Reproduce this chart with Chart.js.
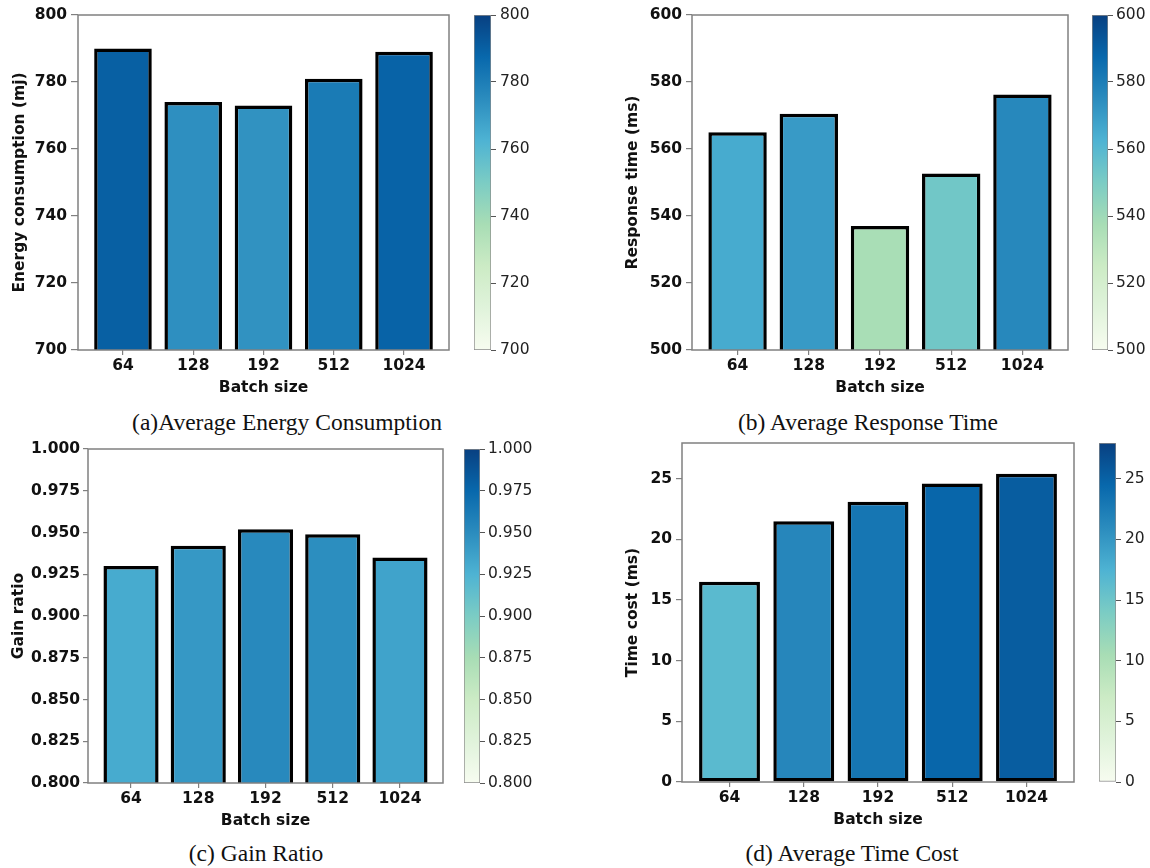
<!DOCTYPE html>
<html>
<head>
<meta charset="utf-8">
<script src="https://cdn.jsdelivr.net/npm/chart.js@4.4.1/dist/chart.umd.min.js"></script>
<style>
  html, body { margin: 0; padding: 0; background: #fff; }
  #fig { position: relative; width: 1150px; height: 868px; overflow: hidden; background: #fff; }
  #fig canvas { position: absolute; }
  .cap {
    position: absolute; width: 440px; text-align: center; white-space: nowrap;
    font-family: 'Liberation Serif', 'Times New Roman', serif;
    font-size: 23.5px; line-height: 28px; color: #111;
  }
</style>
</head>
<body>
<div id="fig"></div>
<script>
// ---- data ----
const batchSizes = ['64', '128', '192', '512', '1024'];

const energyMj    = [790, 774, 773, 781, 789];
const responseMs  = [565, 570.5, 537, 552.7, 576.3];
const gainRatio   = [0.930, 0.942, 0.952, 0.949, 0.935];
const timeCostMs  = [16.5, 21.5, 23.1, 24.6, 25.4];

const energyTicks   = [700, 720, 740, 760, 780, 800];
const responseTicks = [500, 520, 540, 560, 580, 600];
const gainTicks     = [0.800, 0.825, 0.850, 0.875, 0.900, 0.925, 0.950, 0.975, 1.000];
const timeTicks     = [0, 5, 10, 15, 20, 25];

const energyRange   = [700, 800];
const responseRange = [500, 600];
const gainRange     = [0.8, 1.0];
const timeRange     = [0, 27.94];

// GnBu colour map (ColorBrewer, 9 classes)
const GNBU = ['#f7fcf0', '#e0f3db', '#ccebc5', '#a8ddb5', '#7bccc4',
              '#4eb3d3', '#2b8cbe', '#0868ac', '#084081'];

function hexToRgb(h) {
  const n = parseInt(h.slice(1), 16);
  return [(n >> 16) & 255, (n >> 8) & 255, n & 255];
}
function gnbu(t) {
  t = Math.min(1, Math.max(0, t));
  const s = t * (GNBU.length - 1);
  const i = Math.min(Math.floor(s), GNBU.length - 2);
  const f = s - i;
  const a = hexToRgb(GNBU[i]), b = hexToRgb(GNBU[i + 1]);
  return 'rgb(' + a.map((v, k) => Math.round(v + (b[k] - v) * f)).join(',') + ')';
}

// ---- layout of the four sub-figures ----
const panels = [
  { values: energyMj, ticks: energyTicks, range: energyRange, fmt: v => String(v),
    yTitle: 'Energy consumption (mj)', caption: '(a)Average Energy Consumption',
    plot: { l: 78, t: 15, r: 449, b: 350 }, titleX: 20, yTick: 7, yPad: 4,
    cb: { l: 474, r: 491 }, cbTick: 5, cbPad: 4, capX: 287, capY: 422 },
  { values: responseMs, ticks: responseTicks, range: responseRange, fmt: v => String(v),
    yTitle: 'Response time (ms)', caption: '(b) Average Response Time',
    plot: { l: 692, t: 15, r: 1068, b: 350 }, titleX: 633, yTick: 6, yPad: 4,
    cb: { l: 1092, r: 1108 }, cbTick: 5, cbPad: 3, capX: 868, capY: 422 },
  { values: gainRatio, ticks: gainTicks, range: gainRange, fmt: v => v.toFixed(3),
    yTitle: 'Gain ratio', caption: '(c) Gain Ratio',
    plot: { l: 88, t: 449, r: 443, b: 783 }, titleX: 19, yTick: 5, yPad: 3,
    cb: { l: 464, r: 480 }, cbTick: 5, cbPad: 3, capX: 256, capY: 853 },
  { values: timeCostMs, ticks: timeTicks, range: timeRange, fmt: v => String(v),
    yTitle: 'Time cost (ms)', caption: '(d) Average Time Cost',
    plot: { l: 682, t: 443, r: 1074, b: 782 }, titleX: 633, yTick: 6, yPad: 4,
    cb: { l: 1099, r: 1116 }, cbTick: 5, cbPad: 4, capX: 852, capY: 853 }
];

const fig = document.getElementById('fig');
const BOLD = { family: 'DejaVu Sans', size: 15.5, weight: 'bold' };
const REG  = { family: 'DejaVu Sans', size: 15.5, weight: 'normal' };
const AXIS_GREY = '#808080';
const X_AXIS_H = 51;
const PAD = 20;

// axes frame drawn over the bars, like matplotlib spines
const framePlugin = {
  id: 'frame',
  afterDatasetsDraw(chart) {
    const { ctx, chartArea: a } = chart;
    ctx.save();
    ctx.strokeStyle = AXIS_GREY;
    ctx.lineWidth = 1.5;
    ctx.strokeRect(a.left, a.top, a.right - a.left, a.bottom - a.top);
    ctx.restore();
  }
};

function makeCanvas(left, top, width, height) {
  const c = document.createElement('canvas');
  c.width = width; c.height = height;
  c.style.left = left + 'px'; c.style.top = top + 'px';
  c.style.width = width + 'px'; c.style.height = height + 'px';
  fig.appendChild(c);
  return c;
}

panels.forEach(p => {
  // ---- bar chart ----
  const titleOffset = 13.3;                     // half line height + title padding
  const cLeft = Math.round(p.titleX - titleOffset);
  const cTop = p.plot.t - PAD;
  const yWidth = p.plot.l - cLeft;
  const cWidth = p.plot.r - cLeft + PAD;
  const cHeight = (p.plot.b - p.plot.t) + PAD + X_AXIS_H;
  const canvas = makeCanvas(cLeft, cTop, cWidth, cHeight);
  const [lo, hi] = p.range;

  new Chart(canvas, {
    type: 'bar',
    data: {
      datasets: [{
        data: p.values.map((v, i) => ({ x: i, y: v })),
        backgroundColor: p.values.map(v => gnbu((v - lo) / (hi - lo))),
        borderColor: '#000',
        borderWidth: 3.5,
        borderSkipped: false,
        categoryPercentage: 0.82,
        barPercentage: 1.0
      }]
    },
    options: {
      responsive: false,
      animation: false,
      devicePixelRatio: 1,
      layout: { padding: { left: 0, top: PAD, right: PAD, bottom: 0 } },
      plugins: { legend: { display: false }, tooltip: { enabled: false } },
      scales: {
        x: {
          type: 'linear', min: -0.64, max: 4.64, offset: false,
          grid: { offset: false, drawOnChartArea: false, drawTicks: true, tickLength: 5,
                  color: AXIS_GREY, lineWidth: 1.2 },
          border: { display: false },
          afterBuildTicks: s => { s.ticks = batchSizes.map((_, i) => ({ value: i })); },
          afterFit: s => { s.height = X_AXIS_H; },
          ticks: { autoSkip: false, maxRotation: 0, padding: 2, color: '#111', font: BOLD,
                   callback: v => batchSizes[v] },
          title: { display: true, text: 'Batch size', color: '#111', font: BOLD,
                   padding: { top: 4, bottom: 4 } }
        },
        y: {
          type: 'linear', min: lo, max: hi,
          grid: { drawOnChartArea: false, drawTicks: true, tickLength: p.yTick,
                  color: AXIS_GREY, lineWidth: 1.2 },
          border: { display: false },
          afterBuildTicks: s => { s.ticks = p.ticks.map(v => ({ value: v })); },
          afterFit: s => { s.width = yWidth; },
          ticks: { padding: p.yPad, color: '#111', font: BOLD, callback: v => p.fmt(v) },
          title: { display: true, text: p.yTitle, color: '#111', font: BOLD,
                   padding: { top: 4, bottom: 4 } }
        }
      }
    },
    plugins: [framePlugin]
  });

  // ---- colour bar ----
  const cbWidth = p.cb.r - p.cb.l;
  const cbAxisW = 60;
  const cbCanvas = makeCanvas(p.cb.l, p.plot.t - PAD, cbWidth + cbAxisW, (p.plot.b - p.plot.t) + 2 * PAD);
  new Chart(cbCanvas, {
    type: 'bar',
    data: {
      labels: [''],
      datasets: [{
        data: [[lo, hi]],
        backgroundColor: ctx => {
          const area = ctx.chart.chartArea;
          if (!area) return GNBU[4];
          const g = ctx.chart.ctx.createLinearGradient(0, area.bottom, 0, area.top);
          GNBU.forEach((c, i) => g.addColorStop(i / (GNBU.length - 1), c));
          return g;
        },
        borderColor: '#8a8a8a',
        borderWidth: 1,
        borderSkipped: false,
        categoryPercentage: 1,
        barPercentage: 1
      }]
    },
    options: {
      responsive: false,
      animation: false,
      devicePixelRatio: 1,
      layout: { padding: { left: 0, top: PAD, right: 0, bottom: PAD } },
      plugins: { legend: { display: false }, tooltip: { enabled: false } },
      scales: {
        x: { display: false },
        y: {
          position: 'right', min: lo, max: hi,
          grid: { drawOnChartArea: false, drawTicks: true, tickLength: p.cbTick,
                  color: '#555', lineWidth: 1 },
          border: { display: false },
          afterBuildTicks: s => { s.ticks = p.ticks.map(v => ({ value: v })); },
          afterFit: s => { s.width = cbAxisW; },
          ticks: { padding: p.cbPad, color: '#222', font: REG, callback: v => p.fmt(v) }
        }
      }
    }
  });

  // ---- caption ----
  const cap = document.createElement('div');
  cap.className = 'cap';
  cap.textContent = p.caption;
  cap.style.left = (p.capX - 220) + 'px';
  cap.style.top = (p.capY - 14) + 'px';
  fig.appendChild(cap);
});
</script>
</body>
</html>
